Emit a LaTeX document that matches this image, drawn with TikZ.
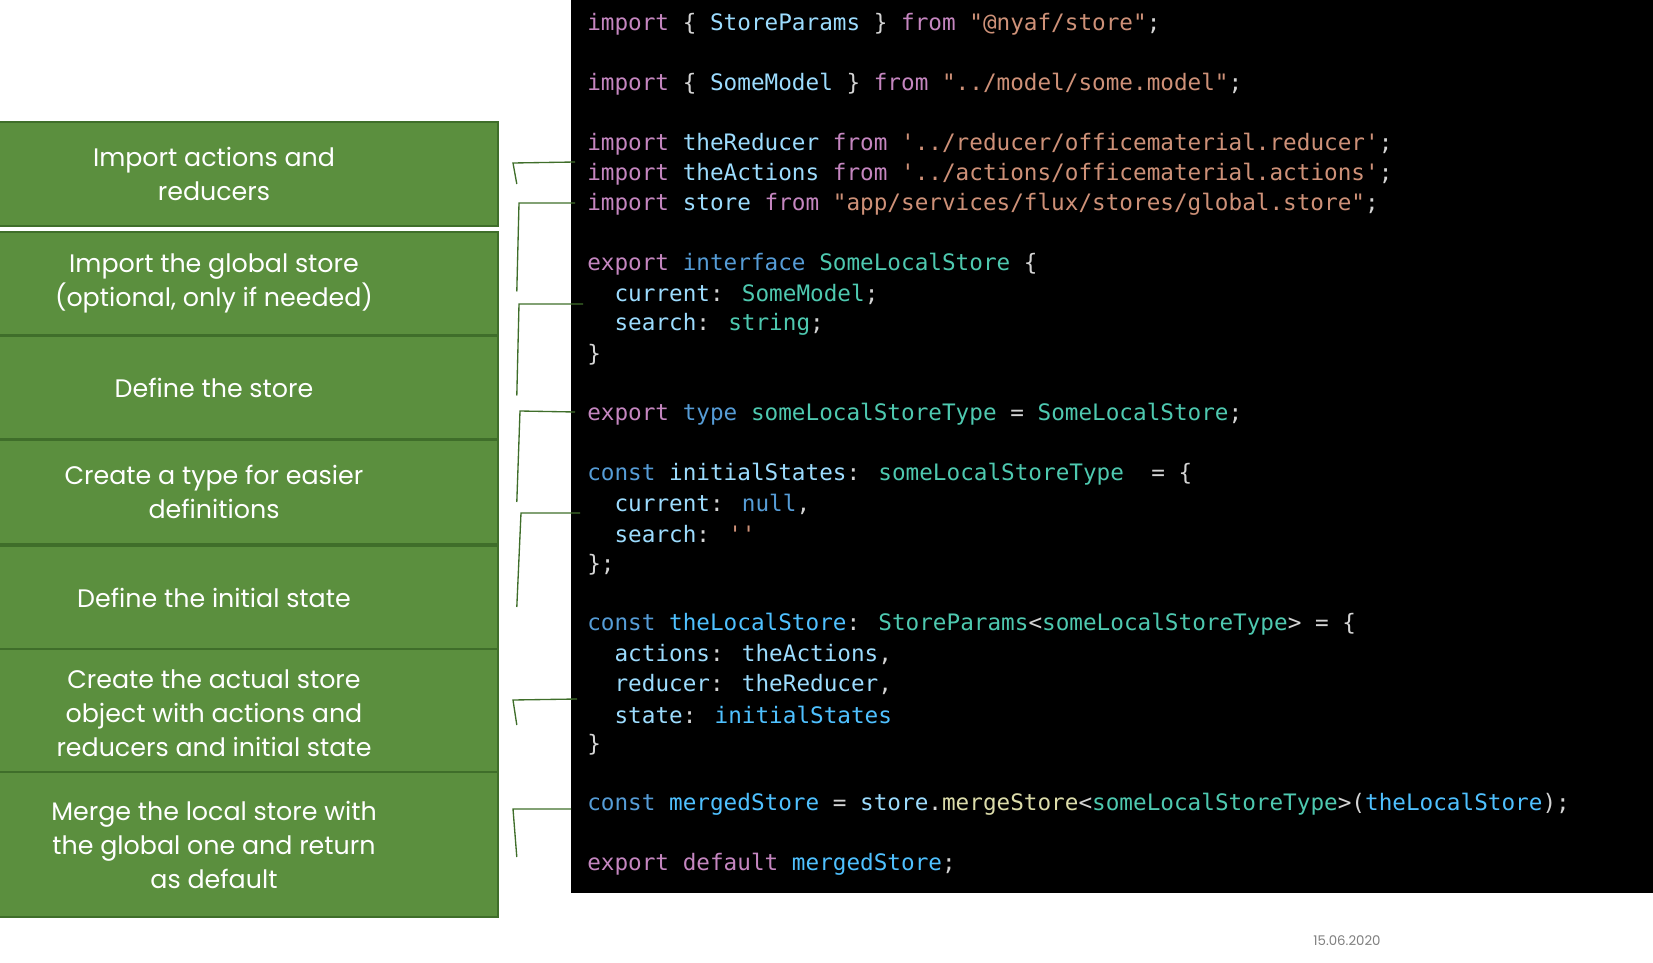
\documentclass[tikz,border=0pt]{standalone}
\usepackage{fontspec}
\setmainfont{Poppins}
\newfontfamily\codefont{DejaVu Sans Mono}
\definecolor{gfill}{HTML}{5B8F3E}
\definecolor{gdark}{HTML}{3F6E2A}
\definecolor{kw}{HTML}{C586C0}
\definecolor{idf}{HTML}{9CDCFE}
\definecolor{str}{HTML}{CE9178}
\definecolor{typ}{HTML}{4EC9B0}
\definecolor{bl}{HTML}{569CD6}
\definecolor{cst}{HTML}{4FC1FF}
\definecolor{fn}{HTML}{DCDCAA}
\definecolor{pun}{HTML}{D4D4D4}
\newcommand\K[1]{\textcolor{kw}{#1}}
\newcommand\I[1]{\textcolor{idf}{#1}}
\newcommand\Sg[1]{\textcolor{str}{#1}}
\newcommand\T[1]{\textcolor{typ}{#1}}
\newcommand\B[1]{\textcolor{bl}{#1}}
\newcommand\C[1]{\textcolor{cst}{#1}}
\newcommand\F[1]{\textcolor{fn}{#1}}
\newcommand\LB{\{}
\newcommand\RB{\}}
\begin{document}
\begin{tikzpicture}[x=0.75pt,y=-0.75pt,
  lbl/.style={draw=gdark,line width=1.2pt,fill=gfill,text=white,align=center,font=\fontsize{19}{25.5}\selectfont,inner sep=0pt},
  code/.style={anchor=west,inner sep=0pt,text=pun,font=\codefont\fontsize{17}{22}\selectfont},
  con/.style={draw=gdark,line width=1pt}]
\useasboundingbox (0,0) rectangle (1653,963);
\fill[black] (571,0) rectangle (1653,893);
% boxes
\node[lbl,minimum width=426,minimum height=78] (b1) at (214,174) {Import actions and\\reducers};
\node[lbl,minimum width=426,minimum height=77] (b2) at (214,283.5) {Import the global store\\(optional, only if needed)};
\node[lbl,minimum width=426,minimum height=77] (b3) at (214,387.5) {Define the store};
\node[lbl,minimum width=426,minimum height=78] (b4) at (214,492) {Create a type for easier\\definitions};
\node[lbl,minimum width=426,minimum height=78] (b5) at (214,598) {Define the initial state};
\node[lbl,minimum width=426,minimum height=96] (b6) at (214,713) {Create the actual store\\object with actions and\\reducers and initial state};
\node[lbl,minimum width=426,minimum height=109] (b7) at (214,844.5) {Merge the local store with\\the global one and return\\as default};
% code
\def\row#1{24.5+30*#1}
\node[code] (l0) at (587,{\row{0}}) {\K{import} \LB{} \I{StoreParams} \RB{} \K{from} \Sg{"@nyaf/store"};};
\node[code] (l2) at (587,{\row{2}}) {\K{import} \LB{} \I{SomeModel} \RB{} \K{from} \Sg{"../model/some.model"};};
\node[code] (l4) at (587,{\row{4}}) {\K{import} \I{theReducer} \K{from} \Sg{'../reducer/officematerial.reducer'};};
\node[code] (l5) at (587,{\row{5}}) {\K{import} \I{theActions} \K{from} \Sg{'../actions/officematerial.actions'};};
\node[code] (l6) at (587,{\row{6}}) {\K{import} \I{store} \K{from} \Sg{"app/services/flux/stores/global.store"};};
\node[code] (l8) at (587,{\row{8}}) {\K{export} \B{interface} \T{SomeLocalStore} \LB};
\node[code] (l9) at (587,{\row{9}}) {\ \ \I{current}: \T{SomeModel};};
\node[code] (l10) at (587,{\row{10}}) {\ \ \I{search}: \T{string};};
\node[code] (l11) at (587,{\row{11}}) {\RB};
\node[code] (l13) at (587,{\row{13}}) {\K{export} \B{type} \T{someLocalStoreType} = \T{SomeLocalStore};};
\node[code] (l15) at (587,{\row{15}}) {\B{const} \I{initialStates}: \T{someLocalStoreType} \ = \LB};
\node[code] (l16) at (587,{\row{16}}) {\ \ \I{current}: \B{null},};
\node[code] (l17) at (587,{\row{17}}) {\ \ \I{search}: \Sg{''}};
\node[code] (l18) at (587,{\row{18}}) {\RB;};
\node[code] (l20) at (587,{\row{20}}) {\B{const} \C{theLocalStore}: \T{StoreParams}<\T{someLocalStoreType}> = \LB};
\node[code] (l21) at (587,{\row{21}}) {\ \ \I{actions}: \I{theActions},};
\node[code] (l22) at (587,{\row{22}}) {\ \ \I{reducer}: \I{theReducer},};
\node[code] (l23) at (587,{\row{23}}) {\ \ \I{state}: \C{initialStates}};
\node[code] (l24) at (587,{\row{24}}) {\RB};
\node[code] (l26) at (587,{\row{26}}) {\B{const} \C{mergedStore} = \I{store}.\F{mergeStore}<\T{someLocalStoreType}>(\C{theLocalStore});};
\node[code] (l28) at (587,{\row{28}}) {\K{export} \K{default} \C{mergedStore};};
% date
\node[font=\fontsize{10}{12}\selectfont,text=gray] (date) at (1347,941) {15.06.2020};
% connectors
\coordinate (e1) at (575,162); \coordinate (e2) at (575,203); \coordinate (e3) at (583,304);
\coordinate (e4) at (575,412); \coordinate (e5) at (580,513); \coordinate (e6) at (577,699);
\coordinate (e7) at (571,809);
\draw[con] ([xshift=18*0.75pt,yshift=-10*0.75pt]b1.east) -- (513,163) -- (e1);
\draw[con] ([xshift=18*0.75pt,yshift=-8*0.75pt]b2.east) -- (519,203) -- (e2);
\draw[con] ([xshift=18*0.75pt,yshift=-8*0.75pt]b3.east) -- (519,304) -- (e3);
\draw[con] ([xshift=18*0.75pt,yshift=-10*0.75pt]b4.east) -- (520,411) -- (e4);
\draw[con] ([xshift=18*0.75pt,yshift=-9*0.75pt]b5.east) -- (521,513) -- (e5);
\draw[con] ([xshift=18*0.75pt,yshift=-12*0.75pt]b6.east) -- (513,700) -- (e6);
\draw[con] ([xshift=18*0.75pt,yshift=-12.5*0.75pt]b7.east) -- (513,809) -- (e7);
\end{tikzpicture}
\end{document}
